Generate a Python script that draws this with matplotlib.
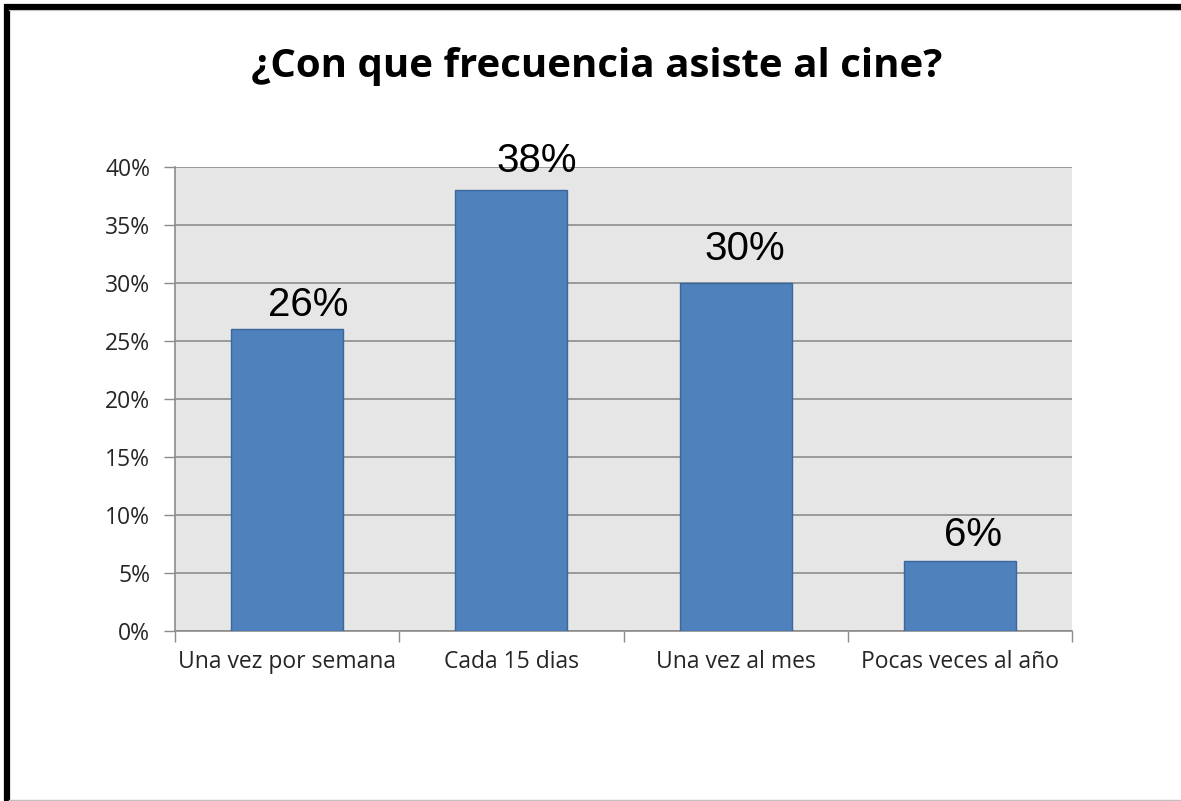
import matplotlib.pyplot as plt
from matplotlib.lines import Line2D
from matplotlib.ticker import MultipleLocator, FuncFormatter

# Data
categories = ['Una vez por semana', 'Cada 15 dias', 'Una vez al mes', 'Pocas veces al año']
values = [26, 38, 30, 6]
value_labels = ['26%', '38%', '30%', '6%']
title = '¿Con que frecuencia asiste al cine?'

# label nudges (points) - the labels sit a bit right of each bar
label_dx = [15, 18.5, 6.5, 9.5]
label_dy = [4, 7, 10.5, 5.5]

W, H = 1181, 801
fig = plt.figure(figsize=(W / 100, H / 100), dpi=100)
fig.patch.set_facecolor('white')

# axes placed to match the reference plot area
ax = fig.add_axes([175 / W, 1 - 631 / H, (1072 - 175) / W, (631 - 167) / H])
ax.set_facecolor('#e6e6e6')

x = range(len(categories))
ax.bar(x, values, width=0.5, color='#4f81bd', edgecolor='#3a679c', linewidth=1, zorder=3)

for xi, v, lab, dx, dy in zip(x, values, value_labels, label_dx, label_dy):
    ax.annotate(lab, (xi, v), xytext=(dx, dy), textcoords='offset points',
                ha='center', va='bottom', fontsize=29, family='Liberation Sans',
                color='black', zorder=4, annotation_clip=False)

ax.set_xlim(-0.5, len(categories) - 0.5)
ax.set_ylim(0, 40)
ax.yaxis.set_major_locator(MultipleLocator(5))
ax.yaxis.set_major_formatter(FuncFormatter(lambda v, p: f'{int(v)}%'))
ax.grid(axis='y', color='#8c8c8c', linewidth=1.2, zorder=1)
ax.set_axisbelow(True)

ax.set_xticks(list(x))
ax.set_xticklabels(categories)
ax.set_xticks([i - 0.5 for i in range(len(categories) + 1)], minor=True)
ax.tick_params(axis='x', which='major', length=0, pad=14)
ax.tick_params(axis='x', which='minor', length=8, width=1, color='#8c8c8c', direction='out')
ax.tick_params(axis='y', length=8, width=1, color='#8c8c8c', direction='out', pad=10)
for lbl in ax.get_xticklabels() + ax.get_yticklabels():
    lbl.set_family('Open Sans')
    lbl.set_fontsize(16.5)
    lbl.set_color('#262626')

for side in ['top', 'right']:
    ax.spines[side].set_visible(False)
ax.spines['left'].set_color('#8c8c8c')
ax.spines['bottom'].set_color('#8c8c8c')
ax.spines['left'].set_linewidth(1.2)
ax.spines['bottom'].set_linewidth(1.2)

fig.text(597 / W, 1 - 67 / H, title, ha='center', va='center',
         fontsize=29, fontweight='bold', family='Open Sans', color='black')

# slide frame: thick black left/top edge, thin grey bottom
fig.add_artist(Line2D([6.5 / W, 6.5 / W], [0, 1 - 4 / H], color='black', linewidth=4.5,
                      transform=fig.transFigure, solid_capstyle='butt'))
fig.add_artist(Line2D([4 / W, 1], [1 - 6.5 / H, 1 - 6.5 / H], color='black', linewidth=4.5,
                      transform=fig.transFigure, solid_capstyle='butt'))
fig.add_artist(Line2D([9 / W, 1], [1 - 10 / H, 1 - 10 / H], color='#c0c0c0', linewidth=0.8,
                      transform=fig.transFigure))
fig.add_artist(Line2D([9 / W, 1], [1.5 / H, 1.5 / H], color='#c0c0c0', linewidth=1,
                      transform=fig.transFigure))

fig.savefig('out.png', dpi=100)
